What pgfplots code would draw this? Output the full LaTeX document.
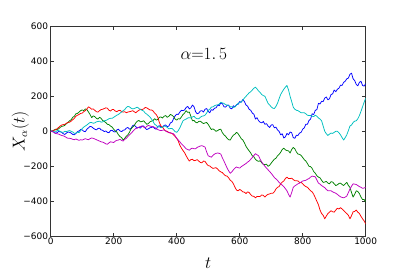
\documentclass[border=0pt]{standalone}
\usepackage{fontspec}
\setmainfont{DejaVu Sans}
\usepackage{pgfplots}
\pgfplotsset{compat=1.18}
\definecolor{mplb}{rgb}{0,0,1}
\definecolor{mplg}{rgb}{0,0.5,0}
\definecolor{mplr}{rgb}{1,0,0}
\definecolor{mplc}{rgb}{0,0.75,0.75}
\definecolor{mplm}{rgb}{0.75,0,0.75}
\begin{document}
\begin{tikzpicture}
\useasboundingbox (-50.7bp,-35bp) rectangle (356.3bp,236.3bp);
\begin{axis}[
  scale only axis, width=315bp, height=210bp,
  at={(0,0)}, anchor=south west,
  xmin=0, xmax=1000, ymin=-600, ymax=600,
  xtick={0,200,400,600,800,1000},
  ytick={-600,-400,-200,0,200,400,600},
  yticklabels={−600,−400,−200,0,200,400,600},
  tick align=inside, tick pos=both,
  major tick length=3.5bp,
  tick style={black!80, line width=0.6pt},
  axis line style={black!80, line width=0.8pt},
  tick label style={font=\fontsize{9}{10}\selectfont},
  /pgf/number format/assume math mode=true,
  /pgf/number format/1000 sep={},
  xticklabel style={inner sep=1.5bp},
  yticklabel style={inner sep=2.5bp},
  xlabel={$t$}, ylabel={$X_\alpha(t)$},
  xlabel style={at={(axis description cs:0.5,-0.1)}, anchor=north, inner sep=0pt, font=\fontsize{16}{18}\selectfont},
  ylabel style={at={(axis description cs:-0.0689,0.5)}, anchor=south, inner sep=0pt, font=\fontsize{16}{18}\selectfont},
  every axis plot/.append style={line width=0.75pt, line join=round},
]
\addplot[mplb] coordinates {
(0,0)(5,3)(10,-4)(15,-12)(20,-8)(25,-1)(30,-3)(35,-6)(40,-14)(45,-18)(50,-10)(55,-4)(60,-6)(65,-10)(70,-18)(75,-20)(80,-12)(85,-2)(90,2)(95,10)
(100,8)(105,0)(110,-2)(115,12)(120,20)(125,28)(130,26)(135,18)(140,12)(145,8)(150,16)(155,18)(160,8)(165,6)(170,-2)(175,2)(180,-6)(185,-8)(190,4)(195,6)
(200,-2)(205,-4)(210,8)(215,12)(220,2)(225,-2)(230,6)(235,8)(240,18)(245,22)(250,12)(255,16)(260,32)(265,36)(270,26)(275,20)(280,22)(285,18)(290,30)(295,30)
(300,18)(305,10)(310,14)(315,20)(320,22)(325,26)(330,16)(335,12)(340,28)(345,32)(350,24)(355,22)(360,34)(365,36)(370,26)(375,30)(380,48)(385,52)(390,72)(395,88)
(400,98)(405,96)(410,110)(415,120)(420,118)(425,122)(430,136)(435,142)(440,128)(445,134)(450,150)(455,140)(460,112)(465,100)(470,104)(475,116)(480,118)(485,110)(490,126)(495,130)
(500,114)(505,106)(510,124)(515,120)(520,132)(525,134)(530,150)(535,146)(540,162)(545,158)(550,140)(555,138)(560,148)(565,150)(570,132)(575,128)(580,146)(585,140)(590,152)(595,154)
(600,170)(605,166)(610,182)(615,170)(620,150)(625,144)(630,126)(635,120)(640,104)(645,98)(650,70)(655,78)(660,60)(665,52)(670,48)(675,56)(680,40)(685,44)(690,30)(695,22)
(700,36)(705,38)(710,20)(715,24)(720,8)(725,0)(730,-20)(735,-14)(740,-38)(745,-32)(750,-12)(755,-20)(760,-4)(765,-8)(770,-36)(775,-40)(780,-22)(785,-24)(790,-10)(795,-6)
(800,12)(805,20)(810,40)(815,40)(820,62)(825,70)(830,100)(835,96)(840,120)(845,124)(850,160)(855,156)(860,172)(865,170)(870,190)(875,196)(880,180)(885,186)(890,210)(895,214)
(900,236)(905,226)(910,240)(915,246)(920,264)(925,262)(930,280)(935,286)(940,300)(945,304)(950,326)(955,332)(960,300)(965,290)(970,268)(975,260)(980,280)(985,286)(990,262)(995,258)(1000,272)
};
\addplot[mplg] coordinates {
(0,0)(5,0)(10,6)(15,12)(20,10)(25,14)(30,22)(35,28)(40,30)(45,34)(50,44)(55,50)(60,60)(65,66)(70,80)(75,86)(80,100)(85,102)(90,110)(95,118)
(100,122)(105,118)(110,128)(115,124)(120,110)(125,96)(130,78)(135,88)(140,84)(145,74)(150,70)(155,80)(160,74)(165,62)(170,56)(175,50)(180,40)(185,38)(190,30)(195,24)
(200,12)(205,2)(210,-4)(215,-20)(220,-30)(225,-36)(230,-50)(235,-40)(240,-28)(245,-20)(250,-6)(255,14)(260,24)(265,32)(270,48)(275,58)(280,62)(285,54)(290,56)(295,60)
(300,50)(305,40)(310,44)(315,54)(320,58)(325,62)(330,72)(335,64)(340,68)(345,80)(350,82)(355,76)(360,86)(365,90)(370,80)(375,86)(380,96)(385,92)(390,84)(395,70)
(400,64)(405,72)(410,70)(415,82)(420,96)(425,104)(430,118)(435,108)(440,110)(445,86)(450,60)(455,62)(460,52)(465,48)(470,56)(475,58)(480,50)(485,44)(490,48)(495,50)
(500,40)(505,24)(510,10)(515,14)(520,8)(525,0)(530,4)(535,10)(540,12)(545,-8)(550,-20)(555,-28)(560,-40)(565,-48)(570,-50)(575,-34)(580,-22)(585,-16)(590,-6)(595,-14)
(600,-28)(605,-42)(610,-50)(615,-66)(620,-86)(625,-100)(630,-112)(635,-124)(640,-140)(645,-146)(650,-160)(655,-168)(660,-172)(665,-168)(670,-180)(675,-190)(680,-190)(685,-188)(690,-200)(695,-194)
(700,-182)(705,-170)(710,-160)(715,-154)(720,-140)(725,-132)(730,-120)(735,-104)(740,-96)(745,-106)(750,-110)(755,-112)(760,-124)(765,-104)(770,-92)(775,-100)(780,-118)(785,-130)(790,-132)(795,-138)
(800,-150)(805,-162)(810,-170)(815,-184)(820,-200)(825,-202)(830,-212)(835,-230)(840,-240)(845,-254)(850,-262)(855,-266)(860,-280)(865,-292)(870,-290)(875,-286)(880,-296)(885,-300)(890,-288)(895,-290)
(900,-300)(905,-310)(910,-306)(915,-298)(920,-296)(925,-304)(930,-310)(935,-300)(940,-292)(945,-310)(950,-320)(955,-350)(960,-376)(965,-360)(970,-340)(975,-344)(980,-356)(985,-376)(990,-390)(995,-390)(1000,-404)
};
\addplot[mplr] coordinates {
(0,0)(5,2)(10,6)(15,8)(20,14)(25,22)(30,30)(35,36)(40,38)(45,40)(50,46)(55,52)(60,52)(65,58)(70,66)(75,74)(80,86)(85,92)(90,96)(95,102)
(100,104)(105,112)(110,118)(115,128)(120,140)(125,134)(130,126)(135,128)(140,120)(145,112)(150,110)(155,118)(160,124)(165,126)(170,130)(175,134)(180,132)(185,120)(190,116)(195,124)
(200,124)(205,116)(210,112)(215,118)(220,120)(225,112)(230,110)(235,112)(240,106)(245,110)(250,112)(255,114)(260,118)(265,112)(270,106)(275,114)(280,120)(285,126)(290,124)(295,128)
(300,136)(305,134)(310,128)(315,122)(320,122)(325,116)(330,104)(335,96)(340,80)(345,50)(350,30)(355,24)(360,10)(365,2)(370,0)(375,-8)(380,-10)(385,-12)(390,-20)(395,-30)
(400,-40)(405,-56)(410,-80)(415,-96)(420,-110)(425,-122)(430,-140)(435,-156)(440,-170)(445,-162)(450,-160)(455,-168)(460,-166)(465,-162)(470,-170)(475,-178)(480,-180)(485,-170)(490,-172)(495,-186)
(500,-196)(505,-198)(510,-206)(515,-212)(520,-210)(525,-208)(530,-216)(535,-226)(540,-232)(545,-236)(550,-246)(555,-254)(560,-256)(565,-266)(570,-280)(575,-286)(580,-300)(585,-320)(590,-336)(595,-340)
(600,-332)(605,-338)(610,-346)(615,-348)(620,-356)(625,-346)(630,-350)(635,-362)(640,-370)(645,-372)(650,-380)(655,-372)(660,-372)(665,-372)(670,-364)(675,-366)(680,-376)(685,-366)(690,-360)(695,-358)
(700,-354)(705,-354)(710,-346)(715,-330)(720,-320)(725,-316)(730,-300)(735,-290)(740,-284)(745,-270)(750,-262)(755,-270)(760,-270)(765,-268)(770,-276)(775,-282)(780,-282)(785,-284)(790,-292)(795,-292)
(800,-300)(805,-310)(810,-316)(815,-320)(820,-330)(825,-340)(830,-346)(835,-360)(840,-380)(845,-400)(850,-420)(855,-450)(860,-470)(865,-480)(870,-500)(875,-484)(880,-470)(885,-462)(890,-454)(895,-460)
(900,-462)(905,-450)(910,-440)(915,-444)(920,-436)(925,-444)(930,-452)(935,-462)(940,-470)(945,-480)(950,-500)(955,-482)(960,-460)(965,-458)(970,-450)(975,-462)(980,-470)(985,-486)(990,-500)(995,-512)(1000,-530)
};
\addplot[mplc] coordinates {
(0,0)(5,2)(10,-2)(15,-4)(20,4)(25,4)(30,0)(35,-6)(40,-6)(45,0)(50,-2)(55,2)(60,4)(65,0)(70,-4)(75,-12)(80,-10)(85,-4)(90,-8)(95,4)
(100,16)(105,24)(110,30)(115,36)(120,44)(125,50)(130,50)(135,46)(140,48)(145,54)(150,56)(155,58)(160,52)(165,54)(170,60)(175,62)(180,66)(185,72)(190,74)(195,74)
(200,80)(205,86)(210,92)(215,96)(220,104)(225,110)(230,118)(235,124)(240,136)(245,142)(250,140)(255,132)(260,128)(265,130)(270,134)(275,138)(280,130)(285,124)(290,120)(295,116)
(300,104)(305,98)(310,90)(315,82)(320,70)(325,56)(330,40)(335,34)(340,24)(345,26)(350,20)(355,24)(360,30)(365,28)(370,22)(375,14)(380,16)(385,16)(390,8)(395,-2)
(400,-6)(405,4)(410,20)(415,40)(420,60)(425,66)(430,70)(435,76)(440,78)(445,76)(450,82)(455,86)(460,76)(465,72)(470,72)(475,80)(480,86)(485,88)(490,92)(495,104)
(500,120)(505,126)(510,138)(515,140)(520,146)(525,150)(530,150)(535,156)(540,166)(545,162)(550,160)(555,152)(560,150)(565,146)(570,140)(575,140)(580,136)(585,140)(590,150)(595,160)
(600,164)(605,168)(610,178)(615,190)(620,200)(625,210)(630,220)(635,226)(640,236)(645,246)(650,252)(655,242)(660,230)(665,222)(670,210)(675,204)(680,200)(685,180)(690,160)(695,150)
(700,140)(705,132)(710,130)(715,142)(720,160)(725,186)(730,210)(735,226)(740,240)(745,252)(750,262)(755,236)(760,200)(765,170)(770,138)(775,126)(780,120)(785,118)(790,112)(795,106)
(800,106)(805,106)(810,100)(815,92)(820,90)(825,90)(830,86)(835,84)(840,92)(845,86)(850,76)(855,70)(860,60)(865,30)(870,0)(875,-14)(880,-24)(885,-16)(890,-10)(895,-12)
(900,-6)(905,0)(910,0)(915,-8)(920,-20)(925,-36)(930,-50)(935,-36)(940,-20)(945,4)(950,30)(955,36)(960,50)(965,58)(970,60)(975,72)(980,90)(985,114)(990,140)(995,166)(1000,190)
};
\addplot[mplm] coordinates {
(0,0)(5,-2)(10,-6)(15,-12)(20,-14)(25,-16)(30,-20)(35,-24)(40,-26)(45,-30)(50,-36)(55,-40)(60,-40)(65,-42)(70,-46)(75,-48)(80,-44)(85,-48)(90,-52)(95,-48)
(100,-50)(105,-46)(110,-42)(115,-46)(120,-48)(125,-42)(130,-38)(135,-40)(140,-44)(145,-48)(150,-52)(155,-56)(160,-60)(165,-62)(170,-66)(175,-72)(180,-74)(185,-66)(190,-60)(195,-62)
(200,-64)(205,-56)(210,-52)(215,-50)(220,-46)(225,-52)(230,-56)(235,-46)(240,-40)(245,-30)(250,-20)(255,-12)(260,-2)(265,8)(270,16)(275,18)(280,24)(285,28)(290,30)(295,24)
(300,20)(305,28)(310,34)(315,30)(320,28)(325,26)(330,22)(335,16)(340,10)(345,6)(350,4)(355,6)(360,8)(365,2)(370,-4)(375,-6)(380,-8)(385,-12)(390,-14)(395,-26)
(400,-40)(405,-50)(410,-60)(415,-72)(420,-80)(425,-90)(430,-100)(435,-104)(440,-108)(445,-100)(450,-96)(455,-100)(460,-100)(465,-92)(470,-88)(475,-84)(480,-82)(485,-86)(490,-90)(495,-118)
(500,-140)(505,-144)(510,-148)(515,-138)(520,-130)(525,-126)(530,-124)(535,-126)(540,-130)(545,-152)(550,-170)(555,-190)(560,-210)(565,-226)(570,-240)(575,-232)(580,-220)(585,-210)(590,-204)(595,-208)
(600,-210)(605,-202)(610,-196)(615,-190)(620,-184)(625,-176)(630,-170)(635,-160)(640,-150)(645,-138)(650,-128)(655,-134)(660,-140)(665,-160)(670,-176)(675,-188)(680,-200)(685,-210)(690,-220)(695,-230)
(700,-240)(705,-252)(710,-264)(715,-272)(720,-280)(725,-292)(730,-300)(735,-308)(740,-316)(745,-328)(750,-340)(755,-360)(760,-376)(765,-350)(770,-320)(775,-312)(780,-306)(785,-300)(790,-296)(795,-290)
(800,-284)(805,-282)(810,-280)(815,-274)(820,-270)(825,-262)(830,-256)(835,-258)(840,-260)(845,-278)(850,-296)(855,-302)(860,-310)(865,-316)(870,-322)(875,-332)(880,-340)(885,-340)(890,-340)(895,-346)
(900,-350)(905,-354)(910,-360)(915,-368)(920,-374)(925,-378)(930,-380)(935,-376)(940,-370)(945,-350)(950,-330)(955,-314)(960,-300)(965,-302)(970,-304)(975,-310)(980,-316)(985,-320)(990,-326)(995,-324)(1000,-320)
};
\node[font=\fontsize{16}{18}\selectfont] at (axis cs:486,440) {${\alpha}{=}1.\,5$};
\end{axis}
\end{tikzpicture}
\end{document}
